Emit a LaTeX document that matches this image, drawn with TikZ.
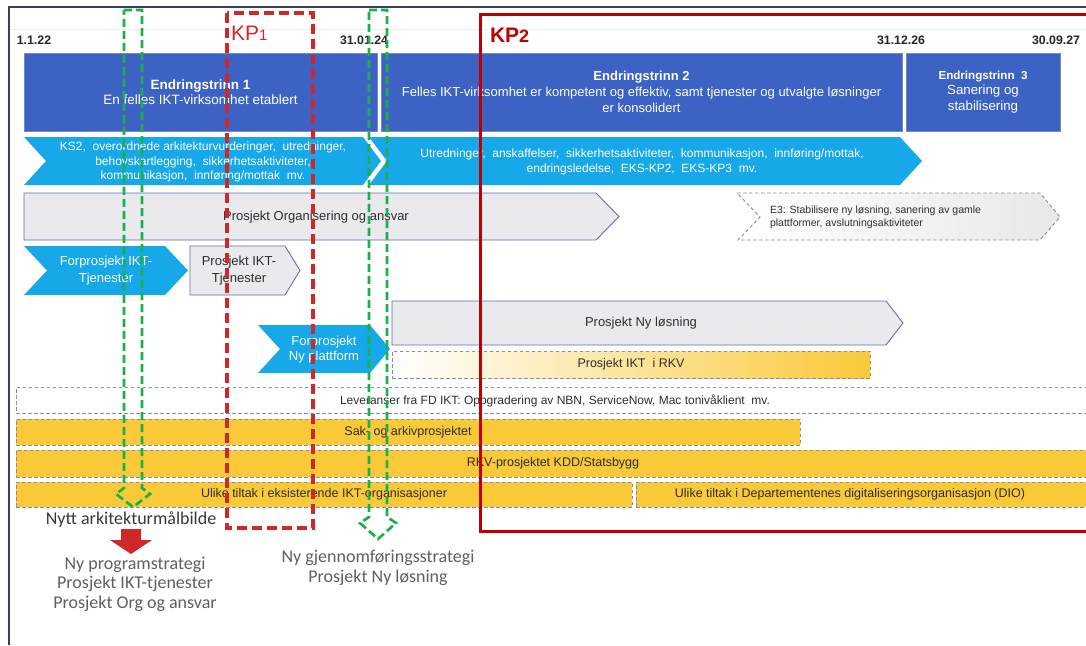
\documentclass[tikz,border=0pt]{standalone}
\usepackage{fontspec}
\setmainfont{Liberation Sans}
\newfontfamily\callight{Carlito}
\definecolor{phaseblue}{RGB}{60,99,196}
\definecolor{chevblue}{RGB}{22,168,232}
\definecolor{boxgray}{RGB}{233,233,238}
\definecolor{edgeblue}{RGB}{98,114,162}
\definecolor{dashgray}{RGB}{130,142,172}
\definecolor{rowyellow}{RGB}{249,201,56}
\definecolor{kpgreen}{RGB}{30,176,72}
\definecolor{kpred}{RGB}{208,40,40}
\definecolor{kpdark}{RGB}{192,0,0}
\definecolor{framenavy}{RGB}{50,64,100}
\definecolor{noteink}{RGB}{95,95,95}
\begin{document}
\begin{tikzpicture}[x=1pt,y=-1pt,
  every node/.style={inner sep=0pt, outer sep=0pt},
  phase/.style={fill=phaseblue, draw=phaseblue!75!white, line width=0.6pt, anchor=north west, text=white, align=center},
  chev/.style={fill=chevblue},
  grayarrow/.style={fill=boxgray, draw=edgeblue, line width=0.9pt},
  dashbox/.style={draw=dashgray, dash pattern=on 3.5pt off 2.5pt, line width=0.9pt},
  yellowrow/.style={dashbox, fill=rowyellow, anchor=north west},
  wtxt/.style={text=white, align=center},
  dtxt/.style={text=black!82, align=center},
  bodyfont/.style={font=\fontsize{13}{15.5}\selectfont},
  rowfont/.style={font=\fontsize{12.5}{14}\selectfont},
  datetxt/.style={font=\fontsize{12.3}{14}\selectfont\bfseries, text=black!85},
  greenarrow/.style={draw=kpgreen, line width=2.7pt, dash pattern=on 8pt off 4pt, line join=miter},
  kpone/.style={draw=kpred, line width=3.6pt, dash pattern=on 10pt off 5pt},
  kptwo/.style={draw=kpdark, line width=3pt},
  note/.style={font=\callight\fontsize{18}{19.5}\selectfont, text=noteink, align=center},
]
\useasboundingbox (0,0) rectangle (1086,645);
\clip (0,0) rectangle (1086,645);
\fill[white] (0,0) rectangle (1086,645);

% frame and header rule
\draw[framenavy, line width=2pt] (9,645) -- (9,7) -- (1086,7);
\draw[black!7, line width=0.6pt] (10,29) -- (1086,29);

% milestone dates
\node[datetxt] (d1) at (34,40) {1.1.22};
\node[datetxt] (d2) at (364,40) {31.01.24};
\node[datetxt] (d3) at (901,40) {31.12.26};
\node[datetxt] (d4) at (1056,40) {30.09.27};

% change stages
\node[phase, minimum width=353pt, minimum height=78pt, font=\fontsize{13.5}{15.5}\selectfont] (e1) at (24,53)
  {\textbf{Endringstrinn 1}\\En felles IKT-virksomhet etablert};
\node[phase, minimum width=521pt, minimum height=78pt, font=\fontsize{13}{16}\selectfont] (e2) at (381,53)
  {\textbf{Endringstrinn 2}\\Felles IKT-virksomhet er kompetent og effektiv, samt tjenester og utvalgte løsninger\\er konsolidert};
\node[phase, minimum width=154pt, minimum height=78pt, font=\fontsize{13.3}{15.5}\selectfont] (e3) at (906,53)
  {{\fontsize{11.6}{13}\selectfont\bfseries Endringstrinn\ \ 3}\\Sanering og\\stabilisering};

% activity chevrons
\fill[chev] (24,137) -- (363,137) -- (381,161) -- (363,185) -- (24,185) -- (46,161) -- cycle;
\fill[chev] (369,137) -- (900,137) -- (922,161) -- (900,185) -- (369,185) -- (387,161) -- cycle;
\node[wtxt, font=\fontsize{12}{14.8}\selectfont] (ks2) at (203,162)
  {KS2, \ overordnede arkitekturvurderinger, \ utredninger,\\behovskartlegging, \ sikkerhetsaktiviteter,\\kommunikasjon, \ innføring/mottak \ mv.};
\node[wtxt, font=\fontsize{12}{14.5}\selectfont] (utr) at (642,162)
  {Utredninger, \ anskaffelser, \ sikkerhetsaktiviteter, \ kommunikasjon, \ innføring/mottak,\\endringsledelse, \ EKS-KP2, \ EKS-KP3 \ mv.};

% organisation project and stage 3 work
\filldraw[grayarrow] (24,193) -- (596,193) -- (619,216.5) -- (596,240) -- (24,240) -- cycle;
\node[dtxt, bodyfont] (org) at (316,217) {Prosjekt Organisering og ansvar};
\path[dashbox, left color=white, right color=black!9] (737,193) -- (1040,193) -- (1060,217) -- (1040,240) -- (738,240) -- (760,217) -- cycle;
\node[dtxt, align=left, anchor=west, font=\fontsize{10.5}{13}\selectfont] (e3work) at (770,217.5)
  {E3: Stabilisere ny løsning, sanering av gamle\\plattformer, avslutningsaktiviteter};

% IKT services projects
\fill[chev] (24,246) -- (165,246) -- (188,270.5) -- (165,295) -- (24,295) -- (47,270.5) -- cycle;
\node[wtxt, font=\fontsize{13}{16.5}\selectfont] (fikt) at (106,270.5) {Forprosjekt IKT-\\Tjenester};
\filldraw[grayarrow] (190,246) -- (285,246) -- (300,270.5) -- (285,295) -- (190,295) -- cycle;
\node[dtxt, font=\fontsize{13}{16.5}\selectfont] (pikt) at (239,270.5) {Prosjekt IKT-\\Tjenester};

% new platform and new solution
\fill[chev] (258,325) -- (370,325) -- (390,349) -- (370,373) -- (258,373) -- (280,349) -- cycle;
\node[wtxt, font=\fontsize{13}{15}\selectfont] (fny) at (324,350) {Forprosjekt\\Ny plattform};
\filldraw[grayarrow] (392,301) -- (886,301) -- (903,323) -- (886,345) -- (392,345) -- cycle;
\node[dtxt, bodyfont] (nyl) at (641,323) {Prosjekt Ny løsning};
\node[dashbox, left color=white, right color=rowyellow, minimum width=478pt, minimum height=27pt, anchor=north west,
  dtxt, rowfont] (iktrkv) at (392,351) {Prosjekt IKT\ \ i RKV};

% deliveries and parallel projects
\node[dashbox, fill=white, anchor=north west, minimum width=1090pt, minimum height=26pt] (lev) at (16,387) {};
\node[dtxt, font=\fontsize{12}{13}\selectfont] (levtxt) at (555,400.5)
  {Leveranser fra FD IKT: Oppgradering av NBN, ServiceNow, Mac tonivåklient\ \ mv.};
\node[yellowrow, minimum width=784pt, minimum height=26pt, dtxt, rowfont] (sak) at (16,419) {Sak- og arkivprosjektet};
\node[yellowrow, minimum width=1090pt, minimum height=27pt] (rkv) at (16,450) {};
\node[dtxt, rowfont] (rkvtxt) at (553,463.5) {RKV-prosjektet KDD/Statsbygg};
\node[yellowrow, minimum width=616pt, minimum height=25pt, dtxt, rowfont] (ulike1) at (16,482) {Ulike tiltak i eksisterende IKT-organisasjoner};
\node[yellowrow, minimum width=460pt, minimum height=25pt] (ulike2) at (636,482) {};
\node[dtxt, rowfont] (ulike2txt) at (850,494.5) {Ulike tiltak i Departementenes digitaliseringsorganisasjon (DIO)};

% control points
\draw[kpone] (227,13) rectangle (313,528);
\node[anchor=west, text=kpred, font=\fontsize{21}{22}\selectfont] (kp1) at (231,33) {KP{\fontsize{15}{16}\selectfont 1}};
\draw[kptwo] (480,14) rectangle (1100,531);
\node[anchor=west, text=kpdark, font=\fontsize{21}{22}\selectfont\bfseries] (kp2) at (490,35) {KP{\fontsize{18}{19}\selectfont 2}};

% decision arrows
\draw[greenarrow] (124,10) -- (142,10) -- (142,488) -- (150,494) -- (133,507) -- (116,494) -- (124,488) -- cycle;
\draw[greenarrow] (369,10) -- (387,10) -- (387,517) -- (396,523) -- (378,539) -- (360,523) -- (369,517) -- cycle;

% outcomes
\node[font=\callight\fontsize{18}{20}\selectfont, text=black!78] (goal) at (131,520) {Nytt arkitekturmålbilde};
\fill[kpred] (121,529) -- (141,529) -- (141,540) -- (152,540) -- (131,554) -- (110,540) -- (121,540) -- cycle;
\node[note] (prog) at (135,584) {Ny programstrategi\\Prosjekt IKT-tjenester\\Prosjekt Org og ansvar};
\node[note] (gjen) at (378,568) {Ny gjennomføringsstrategi\\Prosjekt Ny løsning};
\end{tikzpicture}
\end{document}
